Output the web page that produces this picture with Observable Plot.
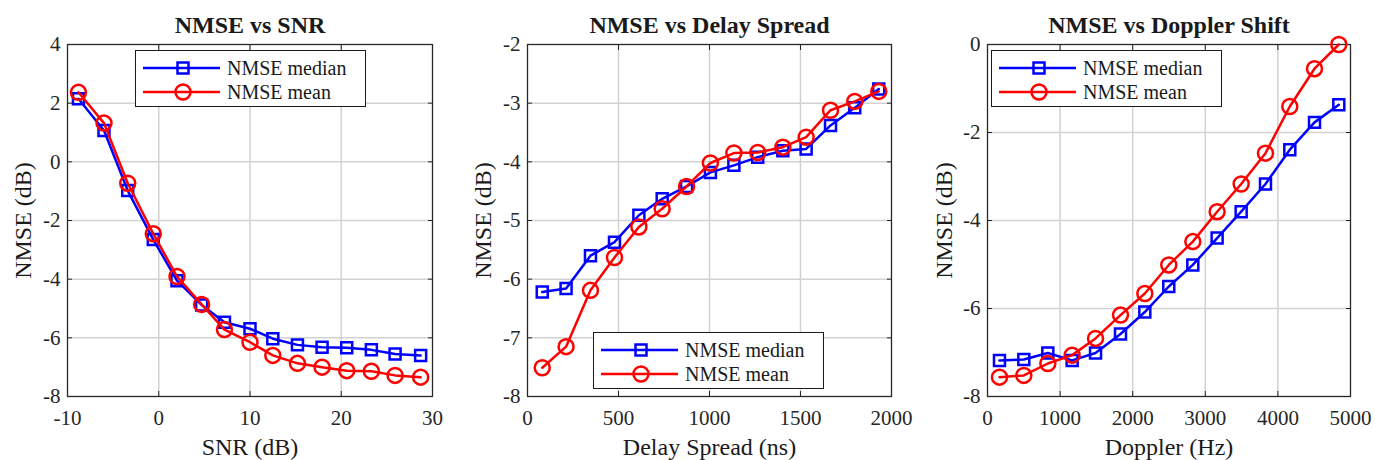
<!DOCTYPE html>
<html>
<head>
<meta charset="utf-8">
<script src="https://cdn.jsdelivr.net/npm/d3@7"></script>
<script src="https://cdn.jsdelivr.net/npm/@observablehq/plot@0.6"></script>
<style>
  html, body { margin: 0; padding: 0; background: #fff; }
  #wrap { position: relative; width: 1375px; height: 460px; overflow: hidden; font-family: "Liberation Serif", "Times New Roman", serif; }
  #wrap svg.plotsvg { position: absolute; top: 0; }
  #wrap svg.plotsvg text { font-family: "Liberation Serif", "Times New Roman", serif; }
  .legend { position: absolute; background: #fff; border: 1.5px solid #1a1a1a; box-sizing: border-box; }
  .legend .row { position: absolute; left: 0; height: 24px; width: 100%; }
  .legend .row svg { position: absolute; left: 0; top: 0; }
  .legend .row span { position: absolute; left: 91px; top: 0; line-height: 24px; font-size: 20px; color: #1a1a1a; white-space: nowrap; }
</style>
</head>
<body>
<div id="wrap"></div>
<script>
// ---- Panel 1: NMSE vs SNR ----
const snr = [-8.8, -6.0, -3.4, -0.6, 2.0, 4.7, 7.2, 10.0, 12.5, 15.2, 17.9, 20.6, 23.3, 25.9, 28.7];
const snrMedian = [2.15, 1.07, -0.98, -2.65, -4.05, -4.88, -5.47, -5.69, -6.03, -6.24, -6.32, -6.34, -6.41, -6.55, -6.6];
const snrMean = [2.37, 1.32, -0.73, -2.45, -3.91, -4.86, -5.72, -6.15, -6.6, -6.87, -7.0, -7.12, -7.14, -7.28, -7.34];
const snrXTicks = [-10, 0, 10, 20, 30];
const snrYTicks = [4, 2, 0, -2, -4, -6, -8];

// ---- Panel 2: NMSE vs Delay Spread ----
const delay = [81, 212, 346, 478, 612, 740, 874, 1005, 1134, 1265, 1403, 1531, 1665, 1798, 1930];
const delayMedian = [-6.22, -6.16, -5.6, -5.37, -4.91, -4.63, -4.42, -4.18, -4.06, -3.92, -3.81, -3.78, -3.38, -3.08, -2.76];
const delayMean = [-7.51, -7.15, -6.19, -5.63, -5.11, -4.8, -4.42, -4.02, -3.85, -3.84, -3.75, -3.58, -3.12, -2.97, -2.8];
const delayXTicks = [0, 500, 1000, 1500, 2000];
const delayYTicks = [-2, -3, -4, -5, -6, -7, -8];

// ---- Panel 3: NMSE vs Doppler Shift ----
const doppler = [165, 500, 831, 1166, 1488, 1832, 2167, 2497, 2828, 3163, 3494, 3829, 4164, 4504, 4839];
const dopplerMedian = [-7.18, -7.16, -7.01, -7.18, -7.01, -6.58, -6.08, -5.5, -5.01, -4.4, -3.8, -3.17, -2.39, -1.77, -1.37];
const dopplerMean = [-7.56, -7.52, -7.25, -7.06, -6.68, -6.15, -5.66, -5.01, -4.48, -3.8, -3.17, -2.47, -1.41, -0.55, 0.0];
const dopplerXTicks = [0, 1000, 2000, 3000, 4000, 5000];
const dopplerYTicks = [0, -2, -4, -6, -8];

const seriesNames = ["NMSE median", "NMSE mean"];
const seriesColors = ["#0000ff", "#ff0000"];

const FONT = '"Liberation Serif", "Times New Roman", serif';

function panel(cfg) {
  const med = cfg.x.map((x, i) => ({x, y: cfg.median[i]}));
  const mean = cfg.x.map((x, i) => ({x, y: cfg.mean[i]}));
  const fmt = d => String(d);
  const blank = () => "";
  const svg = Plot.plot({
    width: cfg.width,
    height: 460,
    marginLeft: cfg.ml,
    marginRight: cfg.mr,
    marginTop: 44,
    marginBottom: 64,
    style: {fontFamily: FONT, fontSize: "21px", color: "#262626", background: "transparent", overflow: "visible"},
    x: {domain: cfg.xDomain, ticks: cfg.xTicks},
    y: {domain: cfg.yDomain, ticks: cfg.yTicks},
    marks: [
      Plot.gridX(cfg.xTicks, {stroke: "#d2d2d2", strokeOpacity: 1, strokeWidth: 1.5}),
      Plot.gridY(cfg.yTicks, {stroke: "#d2d2d2", strokeOpacity: 1, strokeWidth: 1.5}),
      Plot.axisX(cfg.xTicks, {anchor: "bottom", tickSize: 0, tickPadding: 14, tickFormat: fmt, label: null, fontSize: 21, fontFamily: FONT, fill: "#262626"}),
      Plot.axisY(cfg.yTicks, {anchor: "left", tickSize: 0, tickPadding: 7, tickFormat: fmt, label: null, fontSize: 21, fontFamily: FONT, fill: "#262626"}),
      Plot.axisX(cfg.xTicks, {anchor: "bottom", tickSize: -5, tickFormat: blank, label: null, stroke: "#262626"}),
      Plot.axisX(cfg.xTicks, {anchor: "top", tickSize: -5, tickFormat: blank, label: null, stroke: "#262626"}),
      Plot.axisY(cfg.yTicks, {anchor: "left", tickSize: -5, tickFormat: blank, label: null, stroke: "#262626"}),
      Plot.axisY(cfg.yTicks, {anchor: "right", tickSize: -5, tickFormat: blank, label: null, stroke: "#262626"}),
      Plot.frame({stroke: "#262626", strokeWidth: 1.2}),
      Plot.line(med, {x: "x", y: "y", stroke: seriesColors[0], strokeWidth: 2.5}),
      Plot.dot(med, {x: "x", y: "y", symbol: "square", r: 6.2, stroke: seriesColors[0], strokeWidth: 2.5, fill: "none"}),
      Plot.line(mean, {x: "x", y: "y", stroke: seriesColors[1], strokeWidth: 2.5}),
      Plot.dot(mean, {x: "x", y: "y", symbol: "circle", r: 7.5, stroke: seriesColors[1], strokeWidth: 2.5, fill: "none"}),
      Plot.text([cfg.title], {frameAnchor: "top", lineAnchor: "middle", textAnchor: "middle", dy: -19, fontSize: 24, fontWeight: "bold", fontFamily: FONT, fill: "#1a1a1a"}),
      Plot.text([cfg.xLabel], {frameAnchor: "bottom", lineAnchor: "middle", textAnchor: "middle", dy: 51, fontSize: 24, fontFamily: FONT, fill: "#1a1a1a"}),
      Plot.text([cfg.yLabel], {frameAnchor: "left", lineAnchor: "middle", textAnchor: "middle", dx: -cfg.yLabelOffset, rotate: -90, fontSize: 24, fontFamily: FONT, fill: "#1a1a1a"})
    ]
  });
  svg.classList.add("plotsvg");
  svg.style.left = cfg.left + "px";
  return svg;
}

function legend(left, top) {
  const div = document.createElement("div");
  div.className = "legend";
  div.style.left = left + "px";
  div.style.top = top + "px";
  div.style.width = "231px";
  div.style.height = "57px";
  const rows = [5, 29];
  seriesNames.forEach((name, i) => {
    const row = document.createElement("div");
    row.className = "row";
    row.style.top = rows[i] + "px";
    const marker = i === 0
      ? `<rect x="41.5" y="6.5" width="11" height="11" fill="none" stroke="${seriesColors[i]}" stroke-width="2.5"/>`
      : `<circle cx="47" cy="12" r="7.5" fill="none" stroke="${seriesColors[i]}" stroke-width="2.5"/>`;
    row.innerHTML = `<svg width="90" height="24"><line x1="7" y1="12" x2="84" y2="12" stroke="${seriesColors[i]}" stroke-width="2.5"/>${marker}</svg><span>${name}</span>`;
    div.appendChild(row);
  });
  return div;
}

const wrap = document.getElementById("wrap");
wrap.appendChild(panel({
  left: 0, width: 455, ml: 67, mr: 23,
  x: snr, median: snrMedian, mean: snrMean,
  xDomain: [-10, 30], yDomain: [-8, 4], xTicks: snrXTicks, yTicks: snrYTicks,
  title: "NMSE vs SNR", xLabel: "SNR (dB)", yLabel: "NMSE (dB)", yLabelOffset: 44
}));
wrap.appendChild(panel({
  left: 460, width: 455, ml: 67, mr: 24,
  x: delay, median: delayMedian, mean: delayMean,
  xDomain: [0, 2000], yDomain: [-8, -2], xTicks: delayXTicks, yTicks: delayYTicks,
  title: "NMSE vs Delay Spread", xLabel: "Delay Spread (ns)", yLabel: "NMSE (dB)", yLabelOffset: 44
}));
wrap.appendChild(panel({
  left: 915, width: 460, ml: 72, mr: 25,
  x: doppler, median: dopplerMedian, mean: dopplerMean,
  xDomain: [0, 5000], yDomain: [-8, 0], xTicks: dopplerXTicks, yTicks: dopplerYTicks,
  title: "NMSE vs Doppler Shift", xLabel: "Doppler (Hz)", yLabel: "NMSE (dB)", yLabelOffset: 43
}));
wrap.appendChild(legend(135, 50));
wrap.appendChild(legend(593, 332));
wrap.appendChild(legend(991, 50));
</script>
</body>
</html>
